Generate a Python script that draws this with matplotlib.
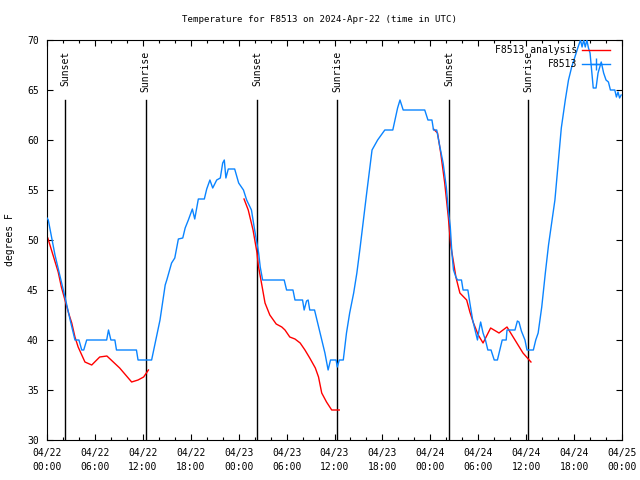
import numpy as np
import matplotlib
matplotlib.use("Agg")
import matplotlib.pyplot as plt
from matplotlib.lines import Line2D

plt.rcParams['font.family'] = ['DejaVu Sans Mono']

# hours since 2024-04-22 00:00 UTC
obs_hours = [0.0, 0.16, 1.0, 2.25, 2.9, 3.5, 4.0, 4.35, 4.6, 4.97, 7.47, 7.7, 8.0, 8.5, 8.7, 11.2, 11.4, 13.1,
             14.15, 14.8, 15.0, 15.6, 16.0, 16.45, 17.0, 17.3, 17.7, 18.2, 18.5, 18.95, 19.7, 20.0, 20.4, 20.75,
             21.25, 21.7, 22.0, 22.2, 22.4, 22.7, 23.5, 24.0, 24.6, 25.0, 25.6, 26.0, 26.5, 26.7, 27.0, 29.7,
             30.0, 30.8, 31.05, 32.0, 32.2, 32.5, 32.7, 32.9, 33.5, 33.8, 34.1, 34.5, 34.8, 35.2, 35.5, 36.2,
             36.35, 36.6, 37.1, 37.5, 37.9, 38.4, 38.8, 39.2, 40.0, 40.7, 41.4, 42.3, 43.3, 43.9, 44.2, 44.6,
             47.3, 47.7, 48.2, 48.4, 48.8, 49.2, 49.6, 50.0, 50.25, 50.5, 50.7, 50.9, 51.2, 51.4, 51.9, 52.1,
             52.7, 52.95, 53.3, 53.6, 53.9, 54.1, 54.3, 54.6, 54.9, 55.2, 55.6, 56.0, 56.4, 56.7, 57.0, 57.5,
             57.6, 58.6, 58.9, 59.1, 59.4, 59.85, 60.1, 60.9, 61.2, 61.5, 61.95, 62.4, 62.8, 63.6, 64.4, 64.9,
             65.3, 65.7, 66.1, 66.5, 66.8, 67.0, 67.2, 67.4, 67.6, 67.8, 68.0, 68.2, 68.4, 68.75, 69.0, 69.4,
             69.7, 70.0, 70.3, 70.55, 71.1, 71.3, 71.5, 71.7, 71.9]
obs_temps = [52.2, 52.0, 48.5, 44.3, 42, 40, 40, 39, 39, 40, 40, 41, 40, 40, 39, 39, 38, 38,
             42, 45.5, 46, 47.7, 48.2, 50.1, 50.2, 51.2, 52, 53.1, 52.1, 54.1, 54.1, 55.1, 56, 55.2,
             56, 56.2, 57.7, 58, 56.2, 57.1, 57.1, 55.7, 55, 54, 53, 51, 48.7, 47.3, 46, 46,
             45, 45, 44, 44, 43, 43.9, 44, 43, 43, 42, 41, 39.7, 38.7, 37, 38, 38,
             37.3, 38, 38, 40.7, 42.7, 44.7, 46.7, 49.2, 54.5, 59, 60, 61, 61, 63.2, 64, 63,
             63, 62, 62, 61, 61, 59.3, 57.7, 55.3, 53, 51.3, 48.7, 47, 46.3, 46, 46, 45,
             45, 43.7, 42, 41, 40, 41, 41.8, 40.7, 40, 39, 39, 38, 38, 39, 40, 40,
             41, 41, 41.9, 41.8, 40.9, 40, 39, 39, 40, 40.7, 43.3, 46.7, 49.5, 54, 61.2, 64,
             66, 67.3, 68.3, 69.3, 70, 69.3, 70, 69.3, 70, 69.2, 68.7, 67, 65.2, 65.2, 66.7, 67.8,
             66.7, 66, 65.8, 65, 65, 64.3, 64.8, 64.2, 64.5]

nan = float('nan')
ana_hours = [0.1, 1.4, 1.8, 2.25, 2.7, 3.1, 3.5, 3.9, 4.75, 5.6, 6.6, 7.5, 9.1, 10.6, 11.4, 12.1, 12.7, 12.8,
             24.67, 25.2, 25.8, 26.3, 26.45, 26.9, 27.3, 27.9, 28.7, 29.4, 29.8, 30.4, 31.05, 31.7, 32.3, 32.9,
             33.6, 34.0, 34.4, 35.0, 35.65, 36.6, 36.7,
             48.4, 48.9, 49.3, 49.8, 50.25, 50.55, 50.9, 51.2, 51.7, 52.55, 52.95, 53.4, 54.0, 54.6, 55.55,
             56.6, 57.6, 58.6, 59.6, 60.6]
ana_temps = [50.2, 46.8, 45.3, 44, 42.7, 41.7, 40.3, 39.3, 37.8, 37.5, 38.3, 38.4, 37.2, 35.8, 36, 36.3, 37, nan,
             54.1, 53, 51, 48.7, 47.5, 45.5, 43.7, 42.5, 41.6, 41.3, 41, 40.3, 40.1, 39.7, 39, 38.2,
             37.2, 36.3, 34.7, 33.8, 33, 33, nan,
             61.1, 60.7, 58.7, 55.7, 52.3, 49.5, 47.8, 46.3, 44.7, 44, 42.8, 41.7, 40.5, 39.7, 41.2,
             40.7, 41.3, 40, 38.7, 37.8]

sunset_hours = [2.3, 26.33, 50.38]
sunrise_hours = [12.36, 36.35, 60.27]

tick_hours = list(range(0, 73, 6))
tick_labels = ["04/22\n00:00", "04/22\n06:00", "04/22\n12:00", "04/22\n18:00",
               "04/23\n00:00", "04/23\n06:00", "04/23\n12:00", "04/23\n18:00",
               "04/24\n00:00", "04/24\n06:00", "04/24\n12:00", "04/24\n18:00",
               "04/25\n00:00"]

BLUE = '#0a84ff'
RED = '#ff0000'
FS = 7

fig = plt.figure(figsize=(6.4, 4.8), dpi=100)
ax = fig.add_axes([47/640, 40/480, 575/640, 400/480])

ax.plot(obs_hours, obs_temps, color=BLUE, lw=1.0, zorder=3)
ax.plot(ana_hours, ana_temps, color=RED, lw=1.0, zorder=2)

line_top = 64.0
for h in sunset_hours:
    ax.plot([h, h], [30, line_top], color='black', lw=1.0, zorder=1)
    ax.text(h, 68.9, "Sunset", rotation=90, ha='center', va='top', fontsize=FS)
for h in sunrise_hours:
    ax.plot([h, h], [30, line_top], color='black', lw=1.0, zorder=1)
    ax.text(h, 68.9, "Sunrise", rotation=90, ha='center', va='top', fontsize=FS)

ax.set_xlim(0, 72)
ax.set_ylim(30, 70)
ax.set_xticks(tick_hours)
ax.set_xticklabels(tick_labels, fontsize=FS, linespacing=1.5)
ax.set_yticks(list(range(30, 71, 5)))
ax.tick_params(axis='y', labelsize=FS, pad=6)
ax.tick_params(which='major', direction='in', length=4, width=0.8, top=True, right=True)
ax.tick_params(axis='x', pad=6)
ax.minorticks_on()
ax.yaxis.set_minor_locator(matplotlib.ticker.NullLocator())
ax.set_xticks(list(range(0, 73, 2)), minor=True)
ax.tick_params(which='minor', direction='in', length=2.2, width=0.8, top=True)
for s in ax.spines.values():
    s.set_linewidth(0.8)

ax.set_ylabel("degrees F", fontsize=FS)
ax.yaxis.set_label_coords(-(47 - 15) / 575, 0.5)
fig.text(0.5, 1 - 19/480, "Temperature for F8513 on 2024-Apr-22 (time in UTC)",
         ha='center', va='center', fontsize=6.6)

handles = [Line2D([], [], color=RED, lw=1.0),
           Line2D([], [], color=BLUE, lw=1.0, marker='+', markersize=8, markeredgewidth=1.0)]
ax.legend(handles, ["F8513 analysis", "F8513"], loc='upper right',
          bbox_to_anchor=((610-47)/575, (440-45)/400), frameon=False, markerfirst=False,
          fontsize=FS, handlelength=2.9, handletextpad=0.5, labelspacing=0.45, borderpad=0,
          borderaxespad=0)

fig.savefig("out.png", dpi=100)
